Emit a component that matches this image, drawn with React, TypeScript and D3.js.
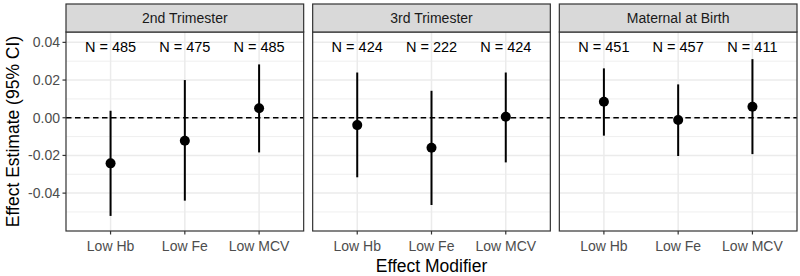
import React from "react";
import * as d3 from "d3";

const panels = ["2nd Trimester", "3rd Trimester", "Maternal at Birth"];
const modifiers = ["Low Hb", "Low Fe", "Low MCV"];
const estimates = [
  [-0.0242, -0.0122, 0.005],
  [-0.0039, -0.0159, 0.0005],
  [0.0085, -0.0012, 0.0058],
];
const lowers = [
  [-0.0521, -0.044, -0.0184],
  [-0.0316, -0.0463, -0.0237],
  [-0.0095, -0.0203, -0.0193],
];
const uppers = [
  [0.0037, 0.02, 0.0283],
  [0.024, 0.0143, 0.024],
  [0.0262, 0.0177, 0.0311],
];
const counts = [
  [485, 475, 485],
  [424, 222, 424],
  [451, 457, 411],
];
const majorTicks = [-0.04, -0.02, 0, 0.02, 0.04];
const minorTicks = [-0.05, -0.03, -0.01, 0.01, 0.03];

const W = 800;
const H = 276;
const left = 66;
const right = 797;
const gap = 9;
const stripTop = 4;
const panelTop = 32;
const panelBottom = 231;
const panelW = (right - left - gap * (panels.length - 1)) / panels.length;
const font = "'Liberation Sans', Arial, Helvetica, sans-serif";

export default function App() {
  const y = d3.scaleLinear().domain([-0.0601, 0.0455]).range([panelBottom, panelTop]);
  const xInner = d3
    .scalePoint<string>()
    .domain(modifiers)
    .range([0, panelW])
    .padding(0.6);

  return (
    <svg
      width={W}
      height={H}
      style={{ position: "absolute", left: 0, top: 0, background: "#fff" }}
      fontFamily={font}
    >
      <rect x={0} y={0} width={W} height={H} fill="#fff" />
      {panels.map((p, pi) => {
        const x0 = left + pi * (panelW + gap);
        return (
          <g key={p} transform={`translate(${x0},0)`}>
            <rect x={0} y={panelTop} width={panelW} height={panelBottom - panelTop} fill="#fff" />
            {minorTicks.map((t) => (
              <line key={"mi" + t} x1={0} x2={panelW} y1={y(t)} y2={y(t)} stroke="#ebebeb" strokeWidth={0.8} />
            ))}
            {majorTicks.map((t) => (
              <line key={"ma" + t} x1={0} x2={panelW} y1={y(t)} y2={y(t)} stroke="#ebebeb" strokeWidth={1.5} />
            ))}
            {modifiers.map((m) => (
              <line key={"vx" + m} x1={xInner(m)} x2={xInner(m)} y1={panelTop} y2={panelBottom} stroke="#ebebeb" strokeWidth={1.5} />
            ))}
            <line x1={0} x2={panelW} y1={y(0)} y2={y(0)} stroke="#000" strokeWidth={1.6} strokeDasharray="5.5,3.5" />
            {modifiers.map((m, mi) => (
              <g key={"d" + m}>
                <line
                  x1={xInner(m)}
                  x2={xInner(m)}
                  y1={y(lowers[pi][mi])}
                  y2={y(uppers[pi][mi])}
                  stroke="#000"
                  strokeWidth={2}
                />
                <circle cx={xInner(m)} cy={y(estimates[pi][mi])} r={5} fill="#000" />
                <text x={xInner(m)} y={51.5} textAnchor="middle" fontSize={14.5} fill="#000">
                  {`N = ${counts[pi][mi]}`}
                </text>
              </g>
            ))}
            <rect x={0} y={panelTop} width={panelW} height={panelBottom - panelTop} fill="none" stroke="#333" strokeWidth={1.2} />
            <rect x={0} y={stripTop} width={panelW} height={panelTop - stripTop} fill="#d9d9d9" stroke="#333" strokeWidth={1.2} />
            <text x={panelW / 2} y={(stripTop + panelTop) / 2 + 5} textAnchor="middle" fontSize={14} fill="#1a1a1a">
              {p}
            </text>
            {modifiers.map((m) => (
              <g key={"xt" + m}>
                <line x1={xInner(m)} x2={xInner(m)} y1={panelBottom} y2={panelBottom + 3.5} stroke="#333" strokeWidth={1.2} />
                <text x={xInner(m)} y={251} textAnchor="middle" fontSize={14} fill="#4d4d4d">
                  {m}
                </text>
              </g>
            ))}
          </g>
        );
      })}
      {majorTicks.map((t) => (
        <g key={"yt" + t}>
          <line x1={left - 3.5} x2={left} y1={y(t)} y2={y(t)} stroke="#333" strokeWidth={1.2} />
          <text x={left - 6} y={y(t) + 5} textAnchor="end" fontSize={14} fill="#4d4d4d">
            {d3.format(".2f")(t).replace("−", "-")}
          </text>
        </g>
      ))}
      <text
        transform={`translate(18.5,${(panelTop + panelBottom) / 2}) rotate(-90)`}
        textAnchor="middle"
        fontSize={17.5}
        fill="#000"
      >
        Effect Estimate (95% CI)
      </text>
      <text x={(left + right) / 2} y={272} textAnchor="middle" fontSize={17.5} fill="#000">
        Effect Modifier
      </text>
    </svg>
  );
}
